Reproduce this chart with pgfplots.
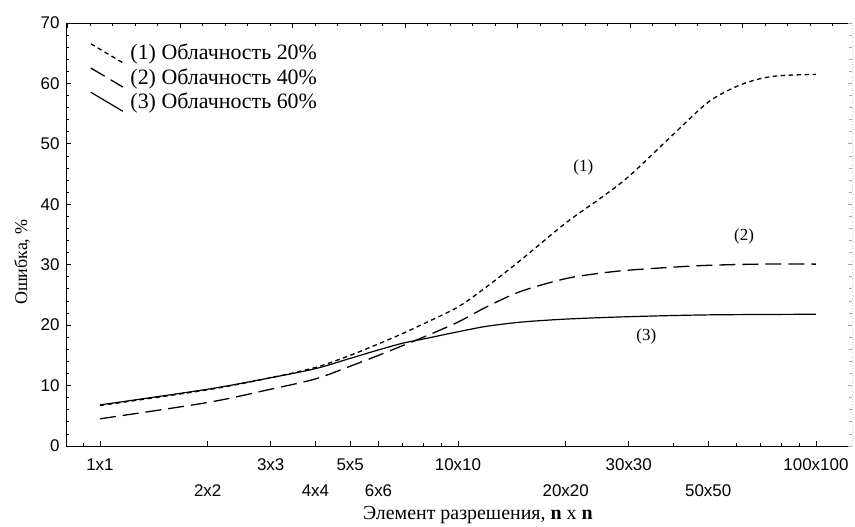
\documentclass[border=0pt]{standalone}
\usepackage{fontspec}
\setmainfont{Liberation Serif}
\newfontfamily\ticksans{Liberation Sans}
\usepackage{pgfplots}
\pgfplotsset{compat=1.18}
\begin{document}
\begin{tikzpicture}
\begin{axis}[
  at={(0,0)}, anchor=south west,
  scale only axis, width=786bp, height=423bp,
  xmode=log, xmin=0.804, xmax=126.1, ymin=0, ymax=70,
  axis x line*=bottom, axis y line*=left,
  xtick pos=bottom, ytick pos=left,
  axis line style={line width=0.9bp},
  tick align=inside,
  major tick length=5bp, minor tick length=3bp,
  tick style={line width=0.8bp, black},
  xtick={1,3,5,10,30,100},
  xticklabels={1x1,3x3,5x5,10x10,30x30,100x100},
  extra x ticks={2,4,6,20,50},
  extra x tick labels={2x2,4x4,6x6,20x20,50x50},
  extra x tick style={xticklabel style={yshift=-26bp}},
  minor xtick={0.9,7,8,9,40,60,70,80,90},
  ytick={0,10,...,70},
  minor y tick num=4,
  /pgf/number format/assume math mode=true,
  ticklabel style={font=\ticksans\fontsize{17}{20}\selectfont},
  xticklabel style={yshift=-9bp},
  yticklabel style={xshift=-3bp},
  xlabel={Элемент разрешения, \textbf{n} x \textbf{n}},
  ylabel={Ошибка, \%},
  xlabel style={font=\fontsize{20}{24}\selectfont, at={(axis description cs:0.524,0)}, anchor=center, yshift=-69bp},
  ylabel style={font=\fontsize{18}{22}\selectfont, at={(axis description cs:-0.056,0.435)}, anchor=center},
  legend image code/.code={\draw[#1] (0bp,9bp) -- (32bp,-10bp); \path (37bp,0bp);},
  legend style={at={(rel axis cs:0,1)}, anchor=north west, xshift=24bp, yshift=-19bp,
    draw=none, fill=none, inner sep=0pt, row sep=3bp,
    font=\fontsize{22}{26}\selectfont},
  legend cell align=left,
]
\addplot[black, line width=1.3bp, dash pattern=on 4.5bp off 3.5bp, smooth] coordinates {
(1,6.7) (2,9.3) (3,11.3) (4,13.0) (5,15.0) (6,16.9) (7,18.6) (8,20.2) (10,23.0)
(12,26.3) (15,30.8) (20,36.9) (25,41.0) (30,44.6) (40,51.6) (50,56.9)
(60,59.5) (70,60.8) (80,61.3) (100,61.5)};
\addlegendentry{(1) Облачность 20\%}
\addplot[black, line width=1.3bp, dash pattern=on 16bp off 7bp, smooth] coordinates {
(1,4.5) (2,7.2) (3,9.4) (4,11.1) (5,13.2) (6,15.0) (7,16.6) (8,18.0) (10,20.5)
(12,23.0) (15,25.6) (20,27.7) (25,28.6) (30,29.1) (40,29.6) (50,29.9) (70,30.1) (100,30.1)};
\addlegendentry{(2) Облачность 40\%}
\addplot[black, line width=1.2bp, smooth] coordinates {
(1,6.8) (2,9.4) (3,11.3) (4,12.8) (5,14.5) (6,15.9) (7,17.0) (8,17.7) (10,18.9)
(12,19.8) (15,20.5) (20,21.0) (30,21.4) (50,21.7) (100,21.8)};
\addlegendentry{(3) Облачность 60\%}
\node[font=\fontsize{17}{20}\selectfont] at (axis cs:22.4,46.1) {(1)};
\node[font=\fontsize{17}{20}\selectfont] at (axis cs:63,34.6) {(2)};
\node[font=\fontsize{17}{20}\selectfont] at (axis cs:33.6,18.1) {(3)};
\end{axis}
% top axis with its own evenly spaced ticks
\begin{axis}[
  at={(0,0)}, anchor=south west,
  scale only axis, width=786bp, height=423bp,
  xmin=0, xmax=786, ymin=0, ymax=70,
  axis x line*=top, axis y line=none,
  xtick pos=top,
  axis line style={line width=0.9bp},
  tick align=inside,
  major tick length=5bp, minor tick length=3bp,
  tick style={line width=0.8bp, black},
  xtick={1.5,114,...,786}, minor xtick={1.5,24,...,786},
  xticklabels={},
]
\end{axis}
% right axis, faint
\begin{axis}[
  at={(0,0)}, anchor=south west,
  scale only axis, width=786bp, height=423bp,
  xmin=0, xmax=786, ymin=0, ymax=70,
  axis y line*=right, axis x line=none,
  ytick pos=right,
  axis line style={line width=0.6bp, gray!35, dotted},
  tick align=inside,
  major tick length=4bp, minor tick length=3bp,
  tick style={line width=0.8bp, gray!70},
  ytick={0,10,...,70}, minor y tick num=4,
  yticklabels={},
]
\end{axis}
\pgfresetboundingbox
\path[use as bounding box] (-66bp,-81bp) rectangle (789bp,446bp);
\end{tikzpicture}
\end{document}
